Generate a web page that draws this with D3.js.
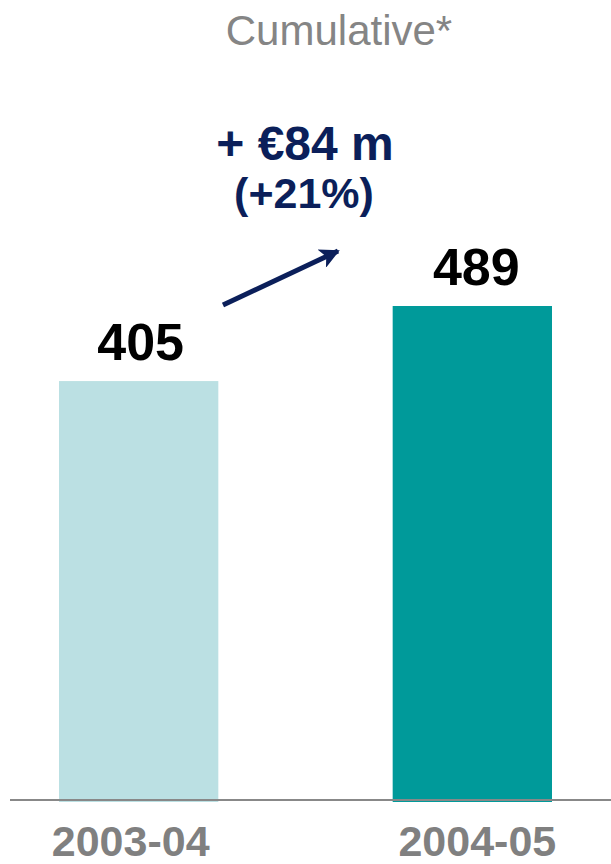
<!DOCTYPE html>
<html>
<head>
<meta charset="utf-8">
<script src="https://cdn.jsdelivr.net/npm/d3@7/dist/d3.min.js"></script>
<style>
  html, body { margin: 0; padding: 0; background: #fff; }
  svg { display: block; }
</style>
</head>
<body>
<svg id="chart" width="611" height="864"></svg>
<script>
// Fiscal years and cumulative totals (€ m)
const years = ["2003-04", "2004-05"];
const totals = [405, 489];
const barColors = ["#bbe0e3", "#009a9a"];
const chartTitle = "Cumulative*";
const changeLabel = "+ €84 m";
const changePctLabel = "(+21%)";
// value axis is not zero-based: bars start from this floor value
const valueFloor = -66;

const svg = d3.select("#chart");
const W = 611, H = 864;
const baseY = 802, topY = 306;

const x = d3.scaleBand()
  .domain(years)
  .range([59, 552])
  .paddingInner(0.5225)
  .paddingOuter(0);

const y = d3.scaleLinear()
  .domain([valueFloor, d3.max(totals)])
  .range([baseY, topY]);

const font = "'Liberation Sans', Arial, Helvetica, sans-serif";

// title
svg.append("text")
  .attr("x", 339).attr("y", 45)
  .attr("text-anchor", "middle")
  .attr("font-family", font)
  .attr("font-size", 42)
  .attr("fill", "#858585")
  .text(chartTitle);

// bars
svg.selectAll("rect.bar")
  .data(years)
  .join("rect")
  .attr("class", "bar")
  .attr("x", d => x(d))
  .attr("width", x.bandwidth())
  .attr("y", (d, i) => y(totals[i]))
  .attr("height", (d, i) => y(valueFloor) - y(totals[i]))
  .attr("fill", (d, i) => barColors[i]);

// baseline
svg.append("line")
  .attr("x1", 10).attr("x2", W)
  .attr("y1", 800).attr("y2", 800)
  .attr("stroke", "#888")
  .attr("stroke-width", 2);

// value labels
svg.selectAll("text.value")
  .data(years)
  .join("text")
  .attr("class", "value")
  .attr("x", (d, i) => x(d) + x.bandwidth() / 2 + (i ? 4 : 2))
  .attr("y", (d, i) => y(totals[i]) - 21)
  .attr("text-anchor", "middle")
  .attr("font-family", font)
  .attr("font-weight", "bold")
  .attr("font-size", 52)
  .attr("fill", "#000")
  .text((d, i) => totals[i]);

// category labels
svg.selectAll("text.cat")
  .data(years)
  .join("text")
  .attr("class", "cat")
  .attr("x", (d, i) => x(d) + x.bandwidth() / 2 + (i ? 5 : -8))
  .attr("y", 856)
  .attr("text-anchor", "middle")
  .attr("font-family", font)
  .attr("font-weight", "bold")
  .attr("font-size", 43)
  .attr("fill", "#808080")
  .text(d => d);

// change annotation
const navy = "#0b1f5a";
svg.append("text")
  .attr("x", 305).attr("y", 160)
  .attr("text-anchor", "middle")
  .attr("font-family", font)
  .attr("font-weight", "bold")
  .attr("font-size", 48)
  .attr("fill", navy)
  .text(changeLabel);

svg.append("text")
  .attr("x", 304).attr("y", 208)
  .attr("text-anchor", "middle")
  .attr("font-family", font)
  .attr("font-weight", "bold")
  .attr("font-size", 43)
  .attr("fill", navy)
  .text(changePctLabel);

// arrow
svg.append("defs").append("marker")
  .attr("id", "arrowhead")
  .attr("viewBox", "0 0 10 10")
  .attr("refX", 9).attr("refY", 5)
  .attr("markerWidth", 5).attr("markerHeight", 4)
  .attr("markerUnits", "strokeWidth")
  .attr("orient", "auto")
  .append("path")
  .attr("d", "M0,0 L10,5 L0,10 L2.5,5 Z")
  .attr("fill", navy);

svg.append("line")
  .attr("x1", 223).attr("y1", 305)
  .attr("x2", 338).attr("y2", 251)
  .attr("stroke", navy)
  .attr("stroke-width", 5)
  .attr("marker-end", "url(#arrowhead)");
</script>
</body>
</html>
